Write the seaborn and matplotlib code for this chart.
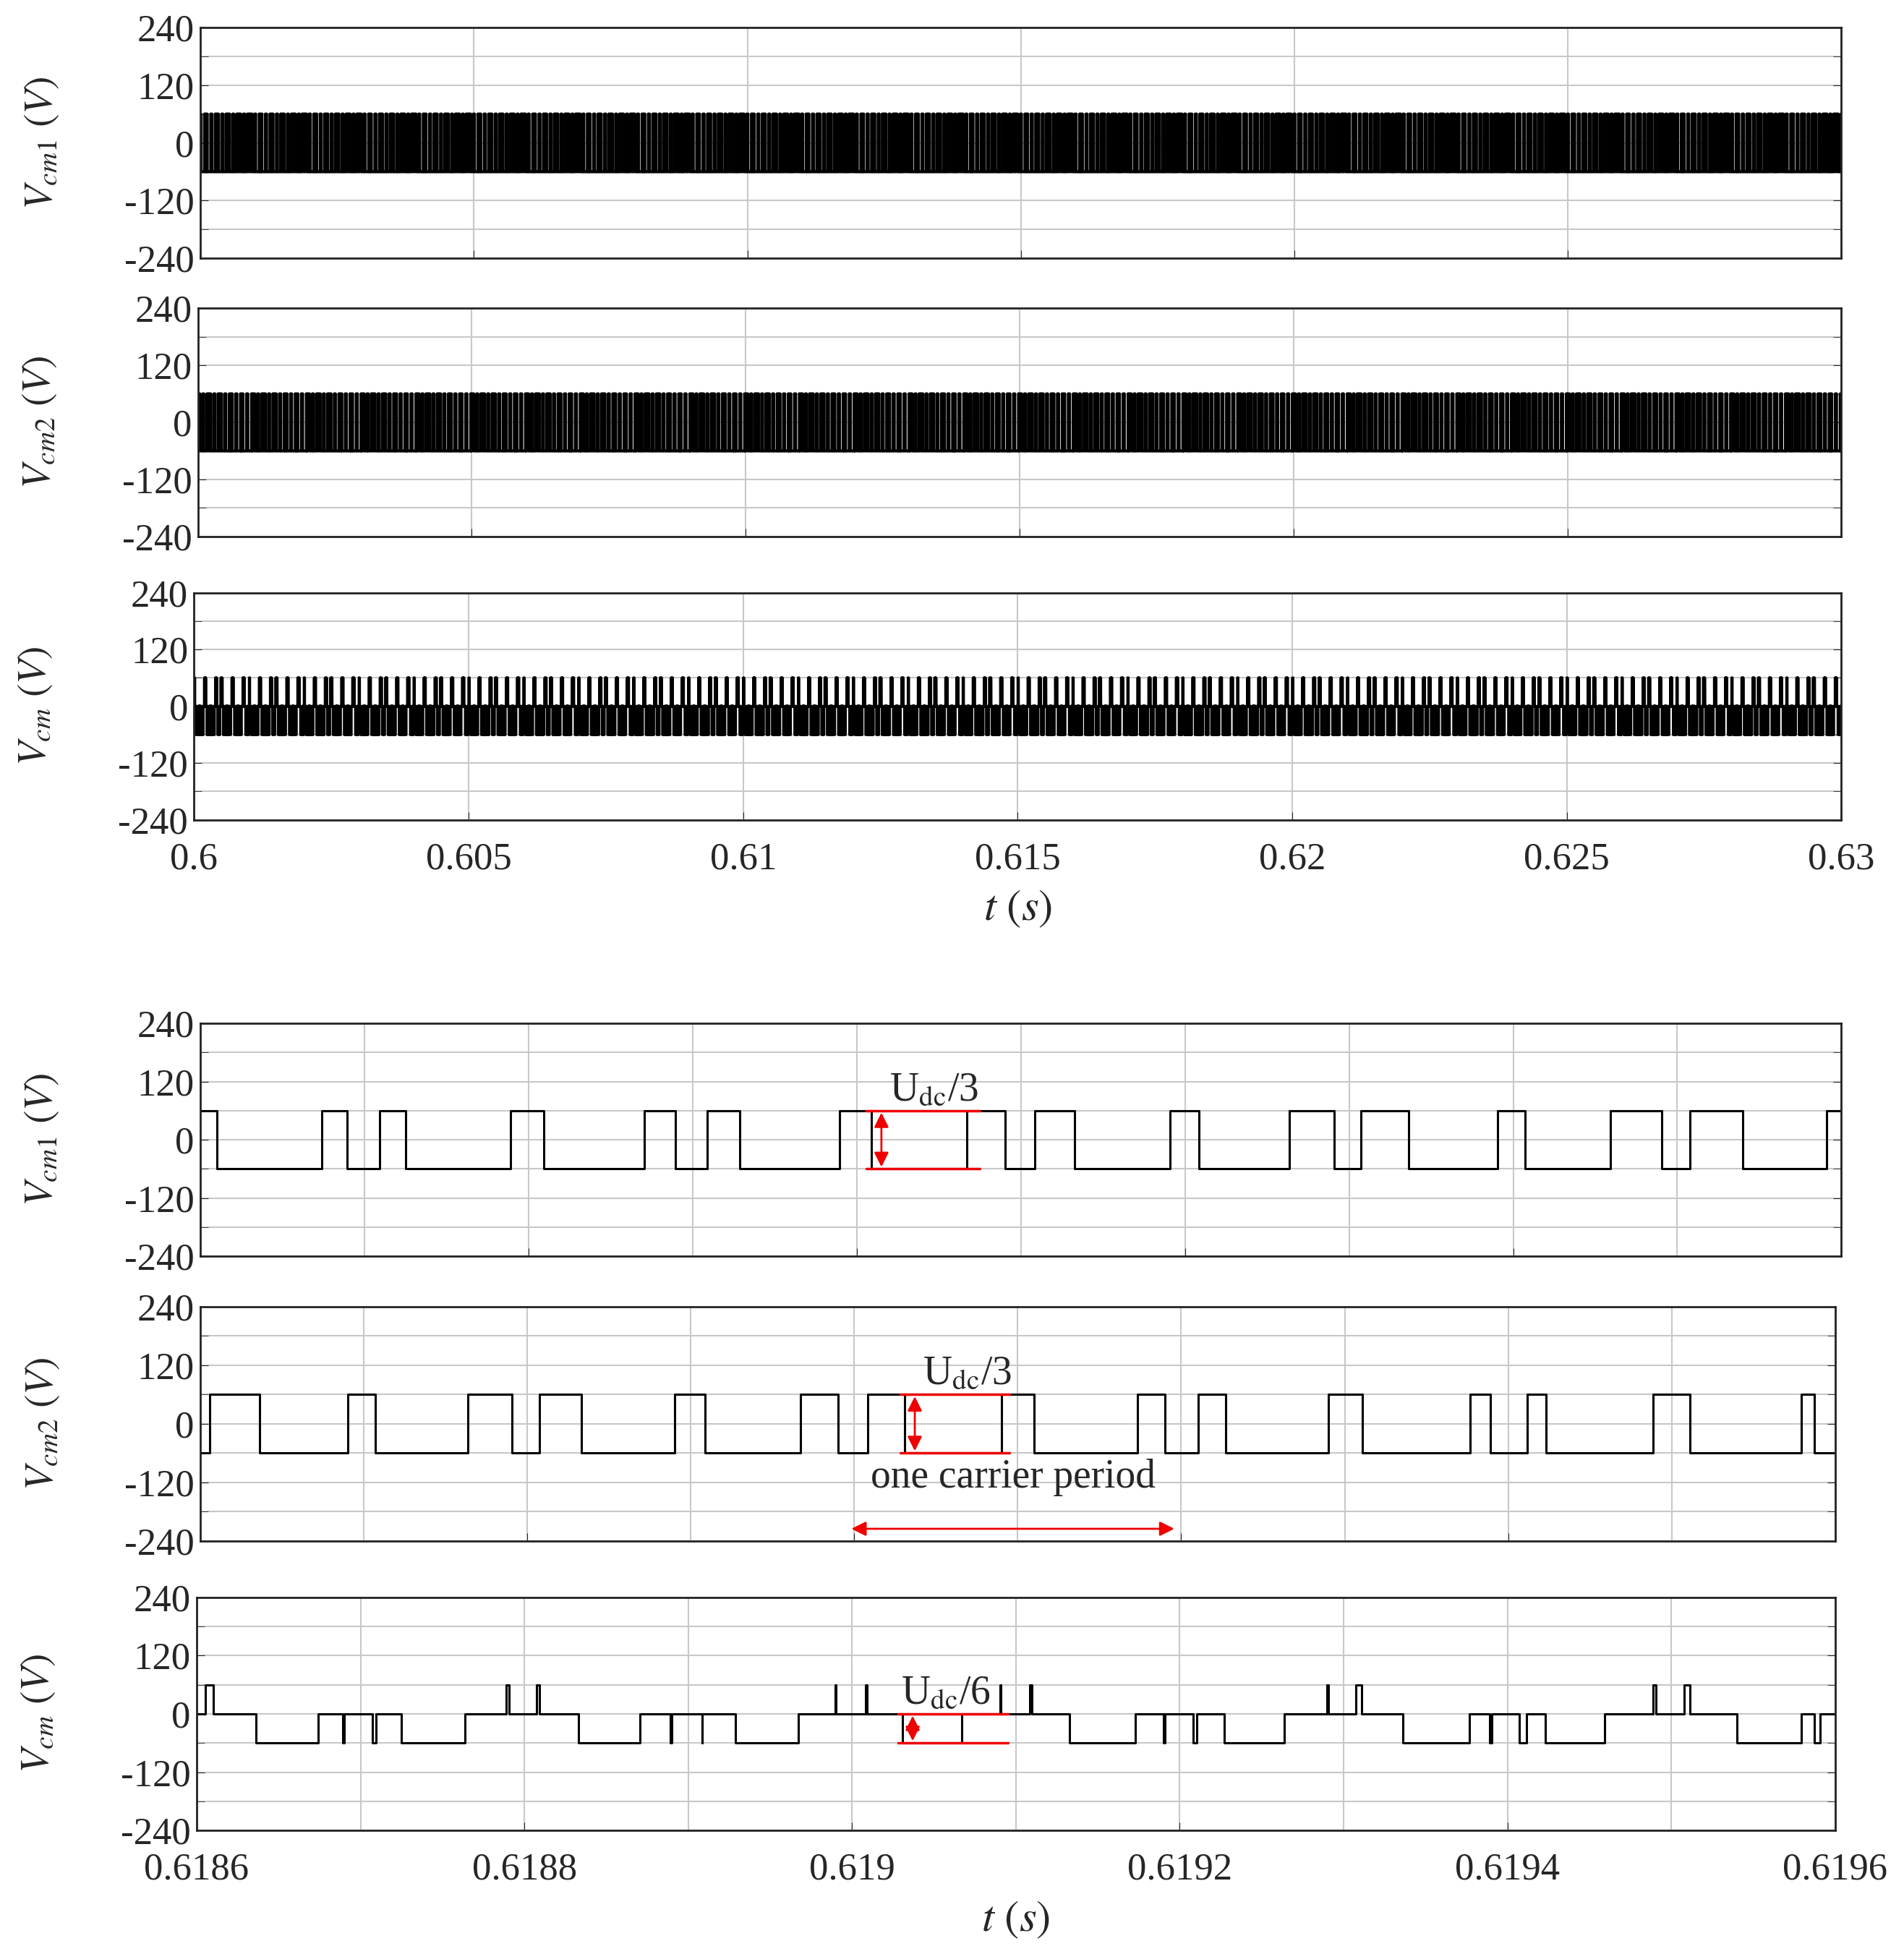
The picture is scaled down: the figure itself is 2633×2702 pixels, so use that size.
import numpy as np
import pandas as pd
import matplotlib
matplotlib.use("Agg")
import matplotlib.pyplot as plt
import seaborn as sns

sns.set_style("white")
plt.rcParams['font.family'] = ['Liberation Serif', 'DejaVu Serif']
plt.rcParams['mathtext.fontset'] = 'stix'
plt.rcParams['axes.unicode_minus'] = False

# transition times (µs after 0.6186 s) read from the zoomed window
vcm1_init = 60
vcm1_edges = [10.0, 74.1, 89.3, 109.4, 124.9, 189.0, 209.1, 270.5, 289.3, 308.7, 328.8,
              389.6, 409.0, 467.0, 490.6, 508.4, 532.7, 590.9, 608.4, 663.7, 690.9, 707.4,
              736.2, 790.3, 807.4, 859.2, 890.6, 907.7, 940.1, 990.9]
vcm2_init = -60
vcm2_edges = [5.5, 36.4, 90.2, 107.2, 163.6, 190.6, 207.6, 233.0, 290.1, 308.6, 367.3,
              390.1, 408.4, 430.9, 490.2, 509.8, 573.1, 589.9, 610.4, 627.3, 689.9, 711.0,
              776.9, 789.2, 811.6, 823.0, 888.8, 911.2, 979.3, 987.5]
level = 60
zoom_start = 0.6186
zoom_len_us = 1000.0
overview_start, overview_end = 0.6, 0.63

def steps(init, edges, t0, reps=1):
    ts, vs = [0.0], [init]
    v = init
    for r in range(reps):
        for e in edges:
            v = -v
            ts.append(r * zoom_len_us + e)
            vs.append(v)
    ts.append(reps * zoom_len_us)
    vs.append(vs[-1])
    return np.array(ts), np.array(vs)

def combine(a, b):
    ta, va = a
    tb, vb = b
    t = np.unique(np.concatenate([ta, tb]))
    ia = np.searchsorted(ta, t, side='right') - 1
    ib = np.searchsorted(tb, t, side='right') - 1
    return t, (va[ia] + vb[ib]) / 2.0

def build(t0, reps):
    s1 = steps(vcm1_init, vcm1_edges, t0, reps)
    s2 = steps(vcm2_init, vcm2_edges, t0, reps)
    s3 = combine(s1, s2)
    out = []
    for t, v in (s1, s2, s3):
        out.append(pd.DataFrame({'t': t0 + t * 1e-6, 'v': v}))
    return out

reps = int(round((overview_end - overview_start) / (zoom_len_us * 1e-6)))
top_data = build(overview_start, reps)
bot_data = build(zoom_start, 1)

W, H = 2633, 2702
fig = plt.figure(figsize=(W / 100, H / 100), dpi=100)
DW, DH = 1520, 1566
boxes = [(160, 1470, 22, 207), (158, 1470, 247, 430), (155, 1470, 475, 657),
         (160, 1470, 820, 1007), (160, 1465, 1047, 1235), (157, 1465, 1280, 1467)]
labels = [r'$V_{cm1}\ (V)$', r'$V_{cm2}\ (V)$', r'$V_{cm}\ (V)$'] * 2
axes = []
for i, (x0, x1, y0, y1) in enumerate(boxes):
    ax = fig.add_axes([x0 / DW, 1 - y1 / DH, (x1 - x0) / DW, (y1 - y0) / DH])
    axes.append(ax)
    df = (top_data + bot_data)[i]
    sns.lineplot(data=df, x='t', y='v', ax=ax, estimator=None, sort=False,
                 drawstyle='steps-post', color='black',
                 linewidth=3.0 if i < 3 else 2.2)
    ax.set_ylim(-240, 240)
    ax.set_yticks([-240, -120, 0, 120, 240])
    ax.set_yticks(np.arange(-240, 241, 60), minor=True)
    ax.set_ylabel(labels[i], fontsize=40, labelpad=8)
    ax.set_xlabel('')
    if i < 3:
        ax.set_xlim(overview_start, overview_end)
        ax.set_xticks(np.arange(0.6, 0.6301, 0.005))
        ax.set_xticklabels(['0.6', '0.605', '0.61', '0.615', '0.62', '0.625', '0.63'])
    else:
        ax.set_xlim(zoom_start, zoom_start + zoom_len_us * 1e-6)
        ax.set_xticks(np.arange(0.6186, 0.61961, 0.0002))
        ax.set_xticklabels(['0.6186', '0.6188', '0.619', '0.6192', '0.6194', '0.6196'])
        ax.set_xticks(np.arange(0.6186, 0.61961, 0.0001), minor=True)
    ax.grid(True, which='both', color='#c8c8c8', linewidth=1.5)
    ax.tick_params(axis='both', which='major', labelsize=38, direction='in', length=8,
                   right=True, top=False, left=True, bottom=True)
    ax.tick_params(axis='x', which='major', pad=22)
    ax.tick_params(axis='y', which='major', pad=6)
    ax.tick_params(axis='y', which='minor', direction='in', length=8, left=True, right=True)
    ax.tick_params(axis='x', which='minor', length=0)
    for s in ax.spines.values():
        s.set_color('#222222'); s.set_linewidth(2)
    if i not in (2, 5):
        ax.tick_params(axis='x', labelbottom=False)
    else:
        ax.set_xlabel(r'$t\ (s)$', fontsize=44, labelpad=12)
    ax.yaxis.set_label_coords(-0.085, 0.5)

def tu(u):
    return zoom_start + u * 1e-6

red = '#ee0000'
a4, a5, a6 = axes[3], axes[4], axes[5]
for ax, (ua, ub, ylo, yhi, ux, txt, tx) in [
        (a4, (406, 475, -60, 60, 415, r'U$_{\rm dc}$/3', 420)),
        (a5, (428, 495, -60, 60, 437, r'U$_{\rm dc}$/3', 442)),
        (a6, (428, 495, -60, 0, 437, r'U$_{\rm dc}$/6', 430))]:
    ax.plot([tu(ua), tu(ub)], [yhi, yhi], color=red, lw=2.5)
    ax.plot([tu(ua), tu(ub)], [ylo, ylo], color=red, lw=2.5)
    ax.annotate('', xy=(tu(ux), ylo), xytext=(tu(ux), yhi),
                arrowprops=dict(arrowstyle='<|-|>', color=red, lw=2, mutation_scale=30))
    ax.text(tu(tx), yhi + 4, txt, fontsize=40, ha='left', va='bottom',
            family='Liberation Serif')
a5.text(tu(497), -110, 'one carrier period', fontsize=40, ha='center', va='center')
a5.annotate('', xy=(tu(397), -215), xytext=(tu(597), -215),
            arrowprops=dict(arrowstyle='<|-|>', color=red, lw=2, mutation_scale=30))

fig.savefig('out.png', dpi=100, facecolor='white')
